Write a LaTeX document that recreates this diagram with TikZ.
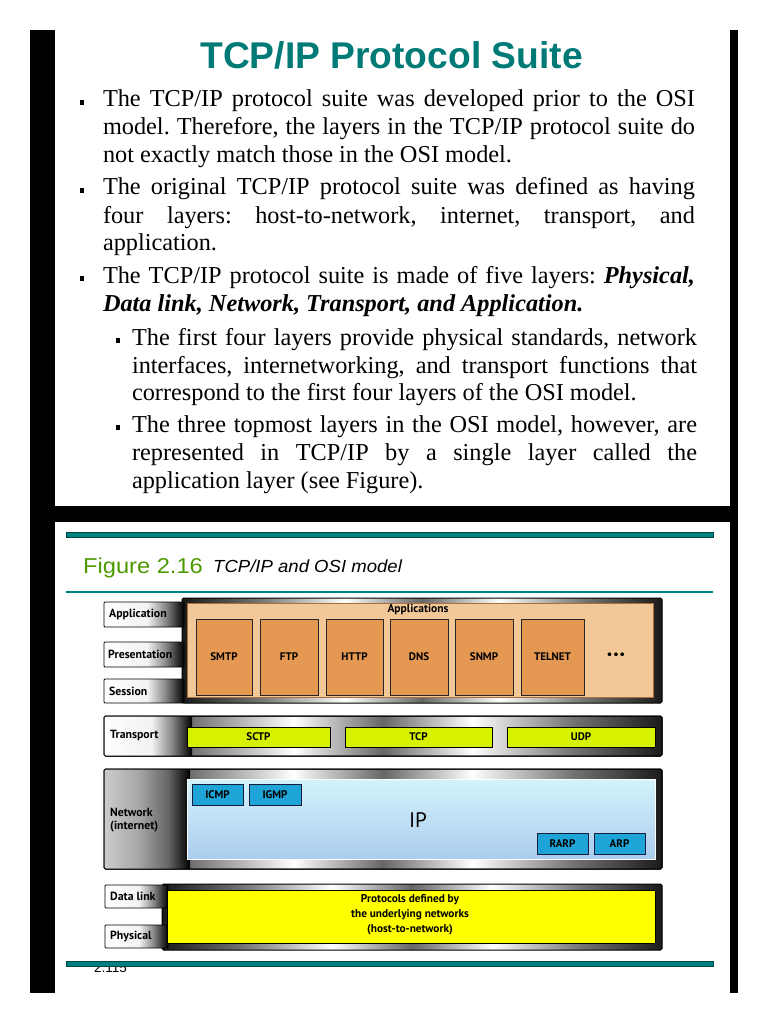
\documentclass[tikz,border=0pt]{standalone}
\usepackage{fontspec}
\setmainfont{Liberation Serif}
\newfontfamily\arialf{Liberation Sans}
\newfontfamily\diagf{PT Sans}
\frenchspacing
\definecolor{titleteal}{RGB}{0,122,118}
\definecolor{tealline}{RGB}{0,128,128}
\definecolor{tealdark}{RGB}{0,70,70}
\definecolor{figgreen}{RGB}{76,154,0}
\definecolor{apptan}{RGB}{243,200,152}
\definecolor{apptanedge}{RGB}{170,110,60}
\definecolor{orangebox}{RGB}{229,152,82}
\definecolor{limebox}{RGB}{214,242,0}
\definecolor{ippanel}{RGB}{200,240,250}
\definecolor{bluebox}{RGB}{30,164,214}
\definecolor{blueedge}{RGB}{20,30,60}
\definecolor{yelpanel}{RGB}{255,255,0}
\pgfdeclarehorizontalshading{chrome}{100bp}{color(0bp)=(black); color(25bp)=(black!90); color(33bp)=(black!55); color(42bp)=(white); color(50bp)=(black!60); color(58bp)=(white); color(67bp)=(black!55); color(75bp)=(black!90); color(100bp)=(black)}
\pgfdeclarehorizontalshading{lblshade}{100bp}{color(0bp)=(white); color(25bp)=(white); color(52bp)=(white!95!black); color(63bp)=(black!45); color(75bp)=(black); color(100bp)=(black)}
\pgfdeclarehorizontalshading{netshade}{100bp}{color(0bp)=(black!25); color(25bp)=(black!20); color(45bp)=(black!35); color(62bp)=(black!60); color(75bp)=(black); color(100bp)=(black)}
\tikzset{
  bodyline/.style={anchor=base west, inner sep=0pt, outer sep=0pt, font=\fontsize{24.3pt}{27.7pt}\selectfont},
  bul/.style={fill=black},
  frame/.style={anchor=north west, inner sep=0pt, outer sep=0pt, draw=black, line width=1pt, rounded corners=1.5pt, shade, shading=chrome},
  lblbox/.style={anchor=north west, inner sep=0pt, outer sep=0pt, draw=black, line width=0.8pt, rounded corners=1pt, shade, shading=lblshade},
  lbltext/.style={anchor=west, inner sep=0pt, font=\diagf\bfseries\fontsize{11.8pt}{12.5pt}\selectfont},
  boxtext/.style={inner sep=0pt, font=\diagf\bfseries\fontsize{11.5pt}{12pt}\selectfont},
  orbox/.style={anchor=north west, inner sep=0pt, outer sep=0pt, draw=black!85, line width=0.9pt, fill=orangebox, minimum height=76pt, font=\diagf\bfseries\fontsize{11pt}{12pt}\selectfont},
  limeb/.style={anchor=north west, inner sep=0pt, outer sep=0pt, draw=black, line width=0.9pt, fill=limebox, minimum height=20pt, font=\diagf\bfseries\fontsize{11pt}{12pt}\selectfont},
  blueb/.style={anchor=north west, inner sep=0pt, outer sep=0pt, draw=blueedge, line width=0.9pt, fill=bluebox, minimum height=21pt, font=\diagf\bfseries\fontsize{11pt}{12pt}\selectfont},
  tealbar/.style={fill=tealline, draw=tealdark, line width=0.6pt}
}
\begin{document}
\begin{tikzpicture}[x=1pt,y=-1pt]
\useasboundingbox (0,0) rectangle (768,1024);
\fill[white] (0,0) rectangle (768,1024);
% black page frame
\fill[black] (30,30) rectangle (55,993);
\fill[black] (730,30) rectangle (738,993);
\fill[black] (30,506) rectangle (738,522);
% title
\node[inner sep=0pt, anchor=base, text=titleteal, font=\arialf\bfseries\fontsize{37.2pt}{40pt}\selectfont] (title) at (391.5,69) {TCP/IP Protocol Suite};
% bullets
\foreach \yy in {107,195,283} {\fill[bul] (80,\yy-7) rectangle (84,\yy-2);}
\foreach \yy in {345,432} {\fill[bul] (116,\yy-7) rectangle (120,\yy-2);}
\node[bodyline] (l1) at (103,107) {\hbox to 592pt{The TCP/IP protocol suite was developed prior to the OSI}};
\node[bodyline] (l2) at (103,135) {\hbox to 592pt{model. Therefore, the layers in the TCP/IP protocol suite do}};
\node[bodyline] (l3) at (103,163) {not exactly match those in the OSI model.};
\node[bodyline] (l4) at (103,195) {\hbox to 592pt{The original TCP/IP protocol suite was defined as having}};
\node[bodyline] (l5) at (103,223) {\hbox to 592pt{four layers: host-to-network, internet, transport, and}};
\node[bodyline] (l6) at (103,250) {application.};
\node[bodyline] (l7) at (103,283) {\hbox to 592pt{The TCP/IP protocol suite is made of five layers: \textbf{\textit{Physical,}}}};
\node[bodyline] (l8) at (103,311) {\textbf{\textit{Data link, Network, Transport, and Application.}}};
\node[bodyline] (l9) at (132,345) {\hbox to 565pt{The first four layers provide physical standards, network}};
\node[bodyline] (l10) at (132,373) {\hbox to 565pt{interfaces, internetworking, and transport functions that}};
\node[bodyline] (l11) at (132,400) {correspond to the first four layers of the OSI model.};
\node[bodyline] (l12) at (132,432) {\hbox to 565pt{The three topmost layers in the OSI model, however, are}};
\node[bodyline] (l13) at (132,460) {\hbox to 565pt{represented in TCP/IP by a single layer called the}};
\node[bodyline] (l14) at (132,488) {application layer (see Figure).};
% figure header
\fill[tealbar] (66,532) rectangle (713,537);
\draw[tealline, line width=1.5pt] (66,592) -- (713,592);
\node[anchor=base west, inner sep=0pt, text=figgreen, font=\arialf\fontsize{21.5pt}{23pt}\selectfont, xscale=1.1] (fignum) at (83,573) {Figure 2.16};
\node[anchor=base west, inner sep=0pt, font=\arialf\itshape\fontsize{17.5pt}{19pt}\selectfont, xscale=1.06] (figcap) at (213,572) {TCP/IP and OSI model};
% ---------- application layer ----------
\node[frame, minimum width=480pt, minimum height=105pt] (appframe) at (182,598) {};
\node[lblbox, minimum width=80pt, minimum height=25pt] (lapp) at (104,602) {};
\node[lbltext] (tapp) at (109,614.5) {Application};
\node[lblbox, minimum width=80pt, minimum height=25pt] (lpres) at (104,642) {};
\node[lbltext] (tpres) at (108,654.5) {Presentation};
\node[lblbox, minimum width=80pt, minimum height=24pt] (lsess) at (104,679) {};
\node[lbltext] (tsess) at (109,691) {Session};
\node[anchor=north west, inner sep=0pt, outer sep=0pt, fill=apptan, draw=apptanedge, line width=0.6pt, minimum width=466pt, minimum height=94pt] (apanel) at (187,603) {};
\node[boxtext] (appsname) at (418,610) {Applications};
\node[orbox, minimum width=56pt] (smtp) at (196,619) {SMTP};
\node[orbox, minimum width=58pt] (ftp) at (260,619) {FTP};
\node[orbox, minimum width=57pt] (http) at (326,619) {HTTP};
\node[orbox, minimum width=58pt] (dns) at (390,619) {DNS};
\node[orbox, minimum width=58pt] (snmp) at (455,619) {SNMP};
\node[orbox, minimum width=63pt] (telnet) at (521,619) {TELNET};
\node[boxtext, font=\diagf\bfseries\fontsize{12pt}{12pt}\selectfont] (dots) at (616,656) {\textbullet\hspace{1pt}\textbullet\hspace{1pt}\textbullet};
% ---------- transport layer ----------
\node[frame, minimum width=558pt, minimum height=40pt] (tframe) at (104,716) {};
\fill[shade, shading=lblshade] (104.5,716.5) rectangle (192,755.5);
\draw[black, line width=1pt, rounded corners=1.5pt] (tframe.north west) rectangle (tframe.south east);
\node[lbltext] (ttrans) at (110,736) {Transport};
\node[limeb, minimum width=143pt] (sctp) at (187,727) {SCTP};
\node[limeb, minimum width=147pt] (tcp) at (345,727) {TCP};
\node[limeb, minimum width=148pt] (udp) at (507,727) {UDP};
% ---------- network layer ----------
\node[frame, minimum width=558pt, minimum height=100pt] (nframe) at (104,769) {};
\fill[shade, shading=netshade] (104.5,769.5) rectangle (190,868.5);
\draw[black, line width=1pt, rounded corners=1.5pt] (nframe.north west) rectangle (nframe.south east);
\node[lbltext, align=left] (tnet) at (110,820) {Network\\(internet)};
\node[anchor=north west, inner sep=0pt, outer sep=0pt, top color=ippanel!80!white, bottom color=ippanel!90!blue!95!black, draw=white, line width=0.8pt, minimum width=468pt, minimum height=80pt] (ippanel) at (187,779) {};
\node[inner sep=0pt, font=\diagf\fontsize{21pt}{22pt}\selectfont] (ip) at (418,820) {IP};
\node[blueb, minimum width=51pt] (icmp) at (192,784) {ICMP};
\node[blueb, minimum width=52pt] (igmp) at (249,784) {IGMP};
\node[blueb, minimum width=51pt] (rarp) at (537,833) {RARP};
\node[blueb, minimum width=51pt] (arp) at (594,833) {ARP};
% ---------- data link / physical ----------
\node[frame, minimum width=500pt, minimum height=66pt] (dframe) at (162,884) {};
\node[lblbox, minimum width=63pt, minimum height=23pt] (ldl) at (105,885) {};
\node[lbltext] (tdl) at (110,896.5) {Data link};
\node[lblbox, minimum width=63pt, minimum height=23pt] (lphy) at (105,925) {};
\node[lbltext] (tphy) at (110,936.5) {Physical};
\node[anchor=north west, inner sep=0pt, outer sep=0pt, fill=yelpanel, draw=black, line width=0.6pt, minimum width=488pt, minimum height=53pt] (yel) at (167,890) {};
\node[boxtext, align=center, font=\diagf\bfseries\fontsize{11.3pt}{15pt}\selectfont] (htn) at (410,915) {Protocols defined by\\the underlying networks\\(host-to-network)};
% footer
\node[anchor=base west, inner sep=0pt, font=\arialf\fontsize{13.5pt}{14pt}\selectfont] (pgno) at (94,972) {2.115};
\fill[tealbar] (66,961) rectangle (713,966);
\end{tikzpicture}
\end{document}
